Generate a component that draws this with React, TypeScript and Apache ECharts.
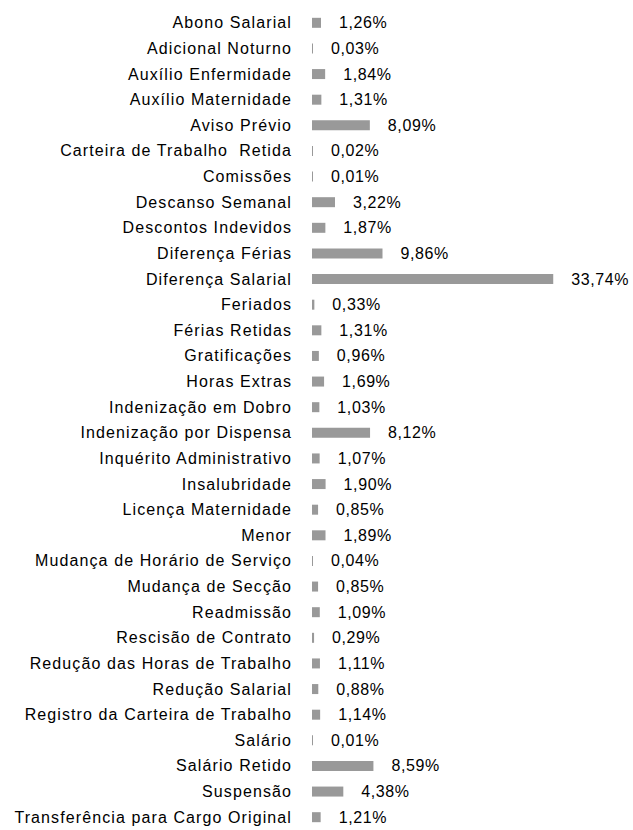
import React, { useEffect, useRef } from "react";
import * as echarts from "echarts";

const categories: string[] = [
  "Abono Salarial",
  "Adicional Noturno",
  "Auxílio Enfermidade",
  "Auxílio Maternidade",
  "Aviso Prévio",
  "Carteira de Trabalho  Retida",
  "Comissões",
  "Descanso Semanal",
  "Descontos Indevidos",
  "Diferença Férias",
  "Diferença Salarial",
  "Feriados",
  "Férias Retidas",
  "Gratificações",
  "Horas Extras",
  "Indenização em Dobro",
  "Indenização por Dispensa",
  "Inquérito Administrativo",
  "Insalubridade",
  "Licença Maternidade",
  "Menor",
  "Mudança de Horário de Serviço",
  "Mudança de Secção",
  "Readmissão",
  "Rescisão de Contrato",
  "Redução das Horas de Trabalho",
  "Redução Salarial",
  "Registro da Carteira de Trabalho",
  "Salário",
  "Salário Retido",
  "Suspensão",
  "Transferência para Cargo Original",
];

const percentages: number[] = [
  1.26, 0.03, 1.84, 1.31, 8.09, 0.02, 0.01, 3.22, 1.87, 9.86, 33.74, 0.33,
  1.31, 0.96, 1.69, 1.03, 8.12, 1.07, 1.9, 0.85, 1.89, 0.04, 0.85, 1.09, 0.29,
  1.11, 0.88, 1.14, 0.01, 8.59, 4.38, 1.21,
];

const FONT = "'Liberation Sans', Arial, Helvetica, sans-serif";

export default function App() {
  const ref = useRef<HTMLDivElement>(null);

  useEffect(() => {
    if (!ref.current) return;
    const chart = echarts.init(ref.current, null, { renderer: "svg" });
    chart.setOption({
      animation: false,
      backgroundColor: "#ffffff",
      grid: { left: 312, top: 10, width: 286, height: 822, containLabel: false },
      xAxis: {
        type: "value",
        min: 0,
        max: 40,
        show: false,
      },
      yAxis: {
        type: "category",
        data: categories,
        inverse: true,
        axisLine: { show: false },
        axisTick: { show: false },
        splitLine: { show: false },
        axisLabel: {
          margin: 20,
          fontSize: 16,
          fontFamily: FONT,
          color: "#000000",
          interval: 0,
        },
      },
      series: [
        {
          type: "bar",
          data: percentages,
          barWidth: 10,
          barMinHeight: 1,
          itemStyle: { color: "#999999" },
          label: {
            show: true,
            position: "right",
            distance: 18,
            fontSize: 16,
            fontFamily: FONT,
            color: "#000000",
            formatter: (p: any) => p.value.toFixed(2).replace(".", ",") + "%",
          },
        },
      ],
    });
    return () => chart.dispose();
  }, []);

  return (
    <>
      <style>
        {"#chart-box text { letter-spacing: 0.6px; } #chart-box text[text-anchor='end'] { letter-spacing: 1.1px; }"}
      </style>
      <div
        id="chart-box"
        ref={ref}
        style={{ position: "absolute", left: 0, top: 0, width: 633, height: 830 }}
      />
    </>
  );
}
